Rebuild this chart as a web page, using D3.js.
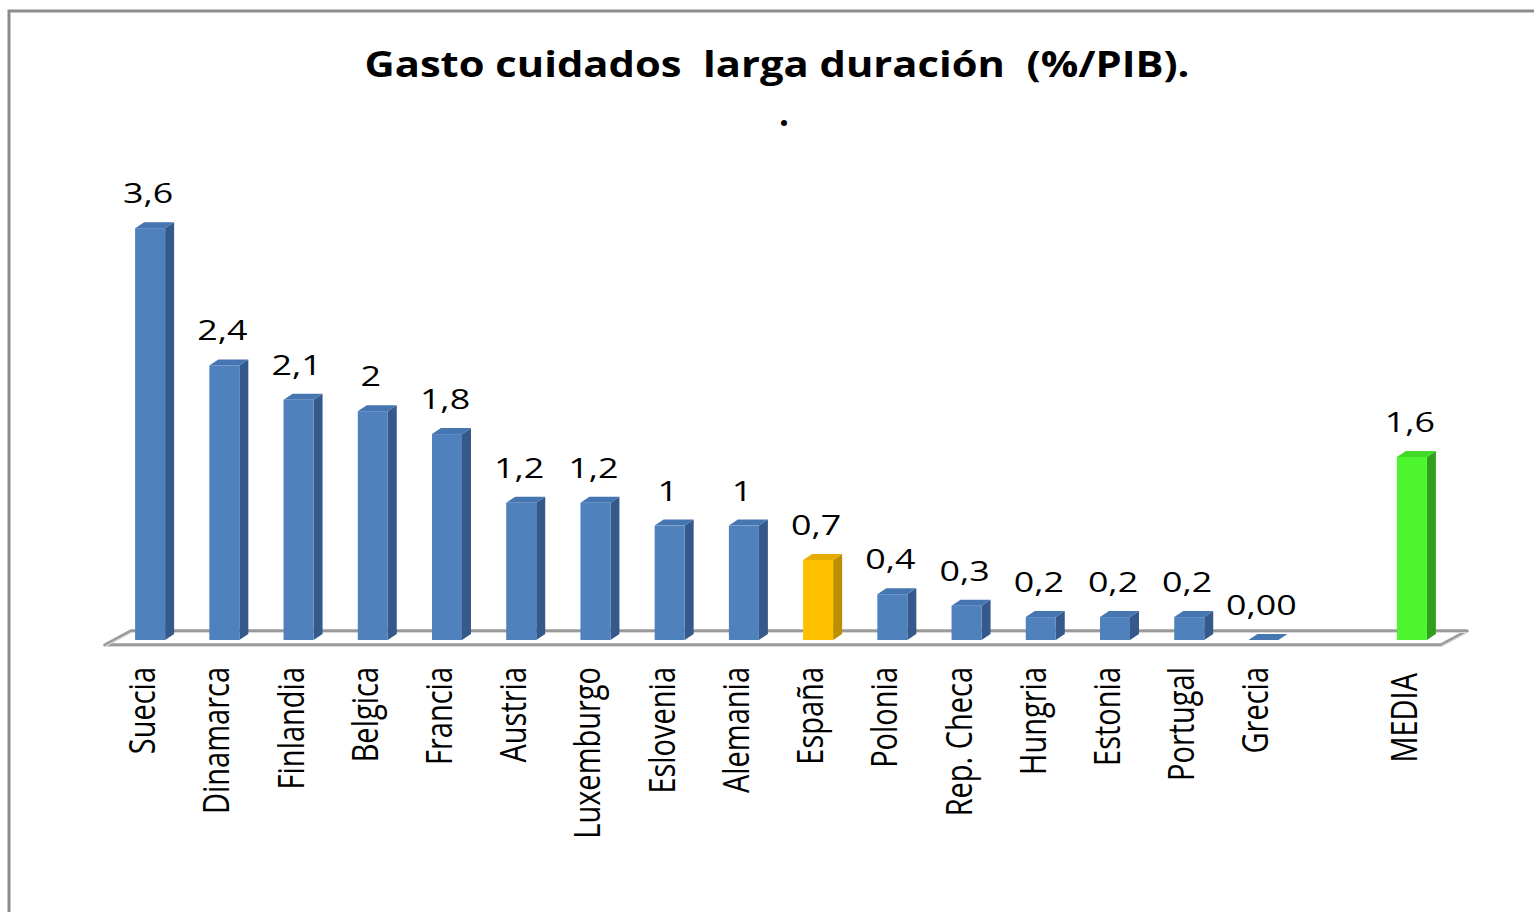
<!DOCTYPE html>
<html>
<head>
<meta charset="utf-8">
<script src="https://cdn.jsdelivr.net/npm/d3@7"></script>
<style>
  html, body { margin: 0; padding: 0; background: #fff; overflow: hidden; }
  text { font-family: "Open Sans", "DejaVu Sans", sans-serif; fill: #000; }
</style>
</head>
<body>
<div id="container"></div>
<script>
// Data (empty slot before MEDIA)
const categories = ["Suecia", "Dinamarca", "Finlandia", "Belgica", "Francia", "Austria",
  "Luxemburgo", "Eslovenia", "Alemania", "España", "Polonia", "Rep. Checa", "Hungria",
  "Estonia", "Portugal", "Grecia", "", "MEDIA"];
const values = [3.6, 2.4, 2.1, 2, 1.8, 1.2, 1.2, 1, 1, 0.7, 0.4, 0.3, 0.2, 0.2, 0.2, 0, null, 1.6];
const valueLabels = ["3,6", "2,4", "2,1", "2", "1,8", "1,2", "1,2", "1", "1", "0,7", "0,4",
  "0,3", "0,2", "0,2", "0,2", "0,00", "", "1,6"];
const highlight = { "España": "orange", "MEDIA": "green" };

const palette = {
  blue:   { front: "#4F81BD", side: "#35598A", top: "#4676B2" },
  orange: { front: "#FFC000", side: "#BE8E00", top: "#E6AD00" },
  green:  { front: "#4DF52E", side: "#2F9F1C", top: "#43D927" }
};

const W = 1534, H = 912;
const barWidth = 30, depthX = 9, depthY = 6;

const svg = d3.select("#container").append("svg")
  .attr("width", W).attr("height", H);

// chart border
svg.append("rect")
  .attr("x", 9).attr("y", 11)
  .attr("width", W + 20).attr("height", H + 20)
  .attr("fill", "#fff").attr("stroke", "#8C8C8C").attr("stroke-width", 3);

const x = d3.scalePoint().domain(d3.range(categories.length))
  .range([113, 1449]).padding(0.5);
const y = d3.scaleLinear().domain([0, 4]).range([640, 182.4]);

// floor
const fl = x.range()[0] - 8, fr = x.range()[1] - 8;
const floorPts = [[fl, 645], [fr, 645], [fr + 26, 631], [fl + 26, 631]].join(" ");
svg.append("polygon")
  .attr("points", floorPts)
  .attr("fill", "#fff").attr("stroke", "#9A9A9A").attr("stroke-width", 3.5)
  .attr("stroke-linejoin", "round");
svg.append("polygon")
  .attr("points", floorPts)
  .attr("fill", "none").attr("stroke", "#D9D9D9").attr("stroke-width", 1.2)
  .attr("transform", "translate(0,1.5)");

const data = categories.map((c, i) => ({ c, i, v: values[i], label: valueLabels[i] }))
  .filter(d => d.v !== null);

const bars = svg.append("g").selectAll("g").data(data).join("g");

bars.each(function (d) {
  const g = d3.select(this);
  const col = palette[highlight[d.c] || "blue"];
  const x0 = x(d.i) - barWidth / 2, x1 = x0 + barWidth;
  const yt = y(d.v), yb = y(0);
  // side face
  g.append("polygon")
    .attr("points", [[x1, yb], [x1 + depthX, yb - depthY], [x1 + depthX, yt - depthY], [x1, yt]].join(" "))
    .attr("fill", col.side);
  // top face
  g.append("polygon")
    .attr("points", [[x0, yt], [x1, yt], [x1 + depthX, yt - depthY], [x0 + depthX, yt - depthY]].join(" "))
    .attr("fill", col.top);
  // front face
  if (yb - yt > 0) {
    g.append("rect")
      .attr("x", x0).attr("y", yt)
      .attr("width", barWidth).attr("height", yb - yt)
      .attr("fill", col.front);
  }
});

// value labels
svg.append("g").selectAll("text").data(data).join("text")
  .attr("transform", d => `translate(${x(d.i) - 2},${y(d.v) - 25}) scale(1.28,1)`)
  .attr("text-anchor", "middle")
  .style("font-size", "28px")
  .text(d => d.label);

// category labels (rotated)
svg.append("g").selectAll("text").data(data).join("text")
  .attr("transform", d => `translate(${x(d.i) + 5},${d.c === "MEDIA" ? 673 : 667}) rotate(-90) scale(1,1.27)`)
  .attr("text-anchor", "end")
  .style("font-size", "29px")
  .text(d => d.c);

// title
svg.append("text")
  .attr("x", 777).attr("y", 77)
  .attr("text-anchor", "middle")
  .style("font-size", "35px").style("font-weight", "bold").style("white-space", "pre")
  .attr("textLength", 825).attr("lengthAdjust", "spacingAndGlyphs")
  .text("Gasto cuidados  larga duración  (%/PIB).");
svg.append("text")
  .attr("x", 784).attr("y", 126)
  .attr("text-anchor", "middle")
  .style("font-size", "35px").style("font-weight", "bold")
  .text(".");
</script>
</body>
</html>
